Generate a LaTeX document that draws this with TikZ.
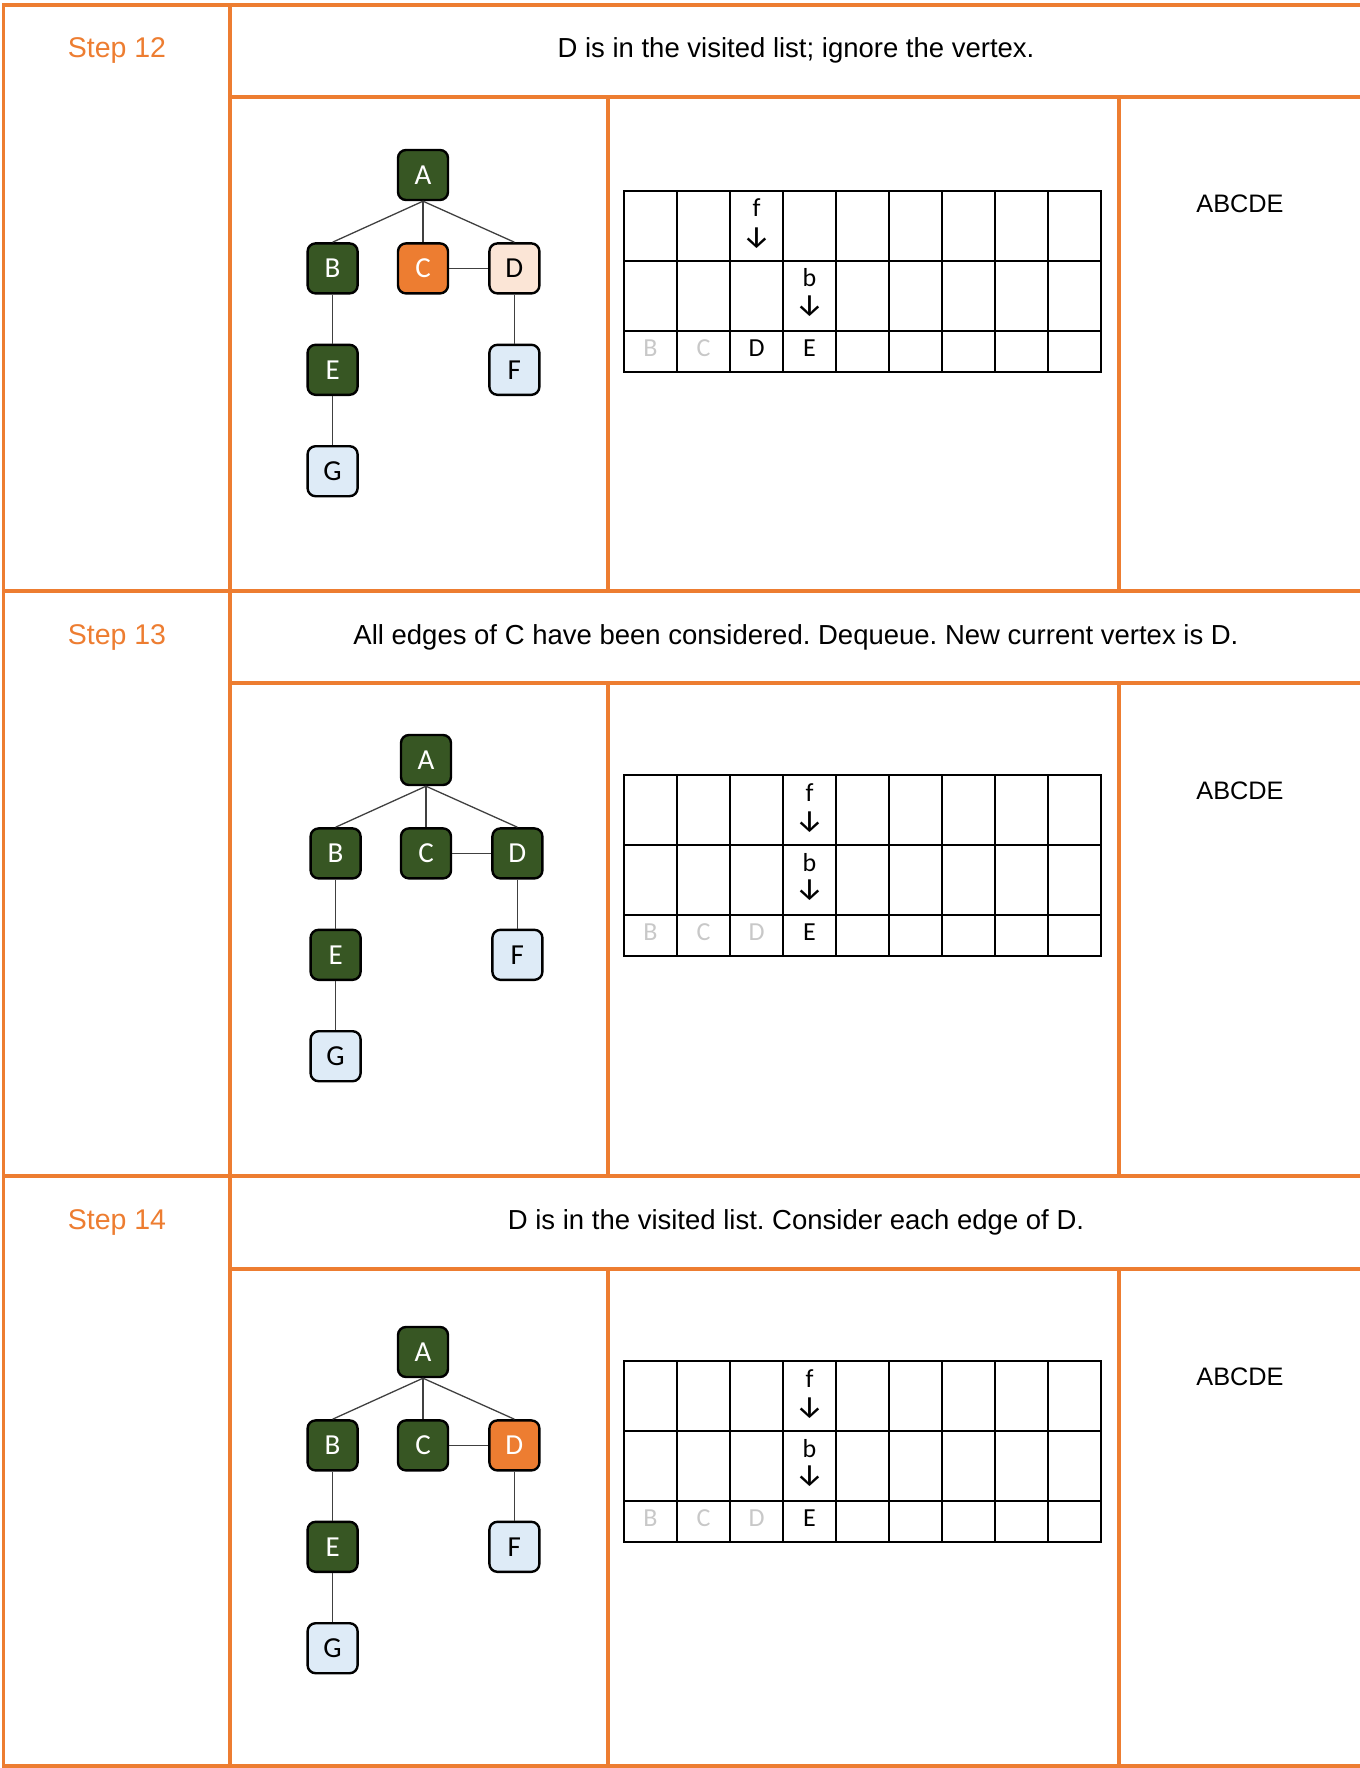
\documentclass[tikz,border=0pt]{standalone}
\usepackage{fontspec}
\setmainfont{Liberation Sans}
\newfontfamily\calfont{Carlito}
\newfontfamily\arrowfont{Fira Sans}
\usepackage{tikz}
\usetikzlibrary{positioning}
\definecolor{StepOrange}{HTML}{ED7D31}
\definecolor{VisitGreen}{HTML}{375623}
\definecolor{FreshBlue}{HTML}{DEEBF7}
\definecolor{QueuePeach}{HTML}{FBE5D6}
\definecolor{DoneGray}{HTML}{C8C8C8}
\frenchspacing

\begin{document}
\begin{tikzpicture}[x=1pt, y=-1pt,
  vbox/.style={draw=black, line width=2.4pt, rounded corners=8pt, minimum size=50pt,
    inner sep=0pt, font=\calfont\fontsize{29}{29}\selectfont},
  done/.style={vbox, fill=VisitGreen, text=white},
  current/.style={vbox, fill=StepOrange, text=white},
  queued/.style={vbox, fill=QueuePeach},
  fresh/.style={vbox, fill=FreshBlue},
  gedge/.style={black!75, line width=1.3pt},
  frame/.style={StepOrange, line width=3.4pt, line cap=rect},
  qline/.style={black, line width=2pt},
  qtext/.style={inner sep=0pt, anchor=base, font=\calfont\fontsize{26}{26}\selectfont},
  qarrow/.style={inner sep=0pt, font=\arrowfont\fontsize{31}{31}\selectfont},
  steplabel/.style={StepOrange, anchor=base, font=\fontsize{28.5}{34}\selectfont},
  heading/.style={anchor=base, font=\fontsize{27.5}{33}\selectfont},
  visited/.style={anchor=base, font=\fontsize{25.3}{30}\selectfont}]
\useasboundingbox (0,0) rectangle (1359,1768);

% Orange frame of the three steps
\draw[frame] (3.7,5) -- (1359,5);
\draw[frame] (3.7,591) -- (1359,591);
\draw[frame] (3.7,1176) -- (1359,1176);
\draw[frame] (3.7,1766) -- (1359,1766);
\draw[frame] (3.7,5) -- (3.7,1766);
\draw[frame] (230,5) -- (230,1766);
\draw[frame] (230,97) -- (1359,97);
\draw[frame] (230,683) -- (1359,683);
\draw[frame] (230,1269) -- (1359,1269);
\foreach \ytop/\ybot in {97/591, 683/1176, 1269/1766} {
  \draw[frame] (608,\ytop) -- (608,\ybot);
  \draw[frame] (1119,\ytop) -- (1119,\ybot);
}

% ---------------- Step 12 ----------------
\node[steplabel] (s12) at (117,57.5) {Step 12};
\node[heading] (h12) at (796,57.5) {D is in the visited list; ignore the vertex.};

% Graph
\node[done] (A12) at (423,175) {A};
\node[current, below=41pt of A12] (C12) {C};
\node[done, left=38pt of C12] (B12) {B};
\node[queued, right=39pt of C12] (D12) {D};
\node[done, below=49pt of B12] (E12) {E};
\node[fresh, below=49pt of D12] (F12) {F};
\node[fresh, below=49pt of E12] (G12) {G};
\draw[gedge] (A12.south) -- (B12.north);
\draw[gedge] (A12.south) -- (C12.north);
\draw[gedge] (A12.south) -- (D12.north);
\draw[gedge] (C12.east) -- (D12.west);
\draw[gedge] (B12.south) -- (E12.north);
\draw[gedge] (E12.south) -- (G12.north);
\draw[gedge] (D12.south) -- (F12.north);

% Queue
\draw[qline] (624,191) rectangle (1101,372);
\draw[qline] (624,261) -- (1101,261);
\draw[qline] (624,331) -- (1101,331);
\foreach \c in {1,...,8} \draw[qline] ({624+53*\c},191) -- ({624+53*\c},372);
\node[qtext] (f12) at (756.5,217) {f};
\node[qarrow] (fa12) at (756.5,238) {↓};
\node[qtext] (b12) at (809.5,287) {b};
\node[qarrow] (ba12) at (809.5,306) {↓};
\node[qtext, DoneGray] (q12a) at (650.5,356) {B};
\node[qtext, DoneGray] (q12b) at (703.5,356) {C};
\node[qtext] (q12c) at (756.5,356) {D};
\node[qtext] (q12d) at (809.5,356) {E};

% Visited list
\node[visited] (v12) at (1240,213) {ABCDE};

% ---------------- Step 13 ----------------
\node[steplabel] (s13) at (117,644) {Step 13};
\node[heading] (h13) at (796,644) {All edges of C have been considered. Dequeue. New current vertex is D.};

% Graph
\node[done] (A13) at (426,760) {A};
\node[done, below=41pt of A13] (C13) {C};
\node[done, left=38pt of C13] (B13) {B};
\node[done, right=39pt of C13] (D13) {D};
\node[done, below=49pt of B13] (E13) {E};
\node[fresh, below=49pt of D13] (F13) {F};
\node[fresh, below=49pt of E13] (G13) {G};
\draw[gedge] (A13.south) -- (B13.north);
\draw[gedge] (A13.south) -- (C13.north);
\draw[gedge] (A13.south) -- (D13.north);
\draw[gedge] (C13.east) -- (D13.west);
\draw[gedge] (B13.south) -- (E13.north);
\draw[gedge] (E13.south) -- (G13.north);
\draw[gedge] (D13.south) -- (F13.north);

% Queue
\draw[qline] (624,775) rectangle (1101,956);
\draw[qline] (624,845) -- (1101,845);
\draw[qline] (624,915) -- (1101,915);
\foreach \c in {1,...,8} \draw[qline] ({624+53*\c},775) -- ({624+53*\c},956);
\node[qtext] (f13) at (809.5,801) {f};
\node[qarrow] (fa13) at (809.5,822) {↓};
\node[qtext] (b13) at (809.5,871) {b};
\node[qarrow] (ba13) at (809.5,890) {↓};
\node[qtext, DoneGray] (q13a) at (650.5,940) {B};
\node[qtext, DoneGray] (q13b) at (703.5,940) {C};
\node[qtext, DoneGray] (q13c) at (756.5,940) {D};
\node[qtext] (q13d) at (809.5,940) {E};

% Visited list
\node[visited] (v13) at (1240,799.5) {ABCDE};

% ---------------- Step 14 ----------------
\node[steplabel] (s14) at (117,1229) {Step 14};
\node[heading] (h14) at (796,1229) {D is in the visited list. Consider each edge of D.};

% Graph
\node[done] (A14) at (423,1352) {A};
\node[done, below=41pt of A14] (C14) {C};
\node[done, left=38pt of C14] (B14) {B};
\node[current, right=39pt of C14] (D14) {D};
\node[done, below=49pt of B14] (E14) {E};
\node[fresh, below=49pt of D14] (F14) {F};
\node[fresh, below=49pt of E14] (G14) {G};
\draw[gedge] (A14.south) -- (B14.north);
\draw[gedge] (A14.south) -- (C14.north);
\draw[gedge] (A14.south) -- (D14.north);
\draw[gedge] (C14.east) -- (D14.west);
\draw[gedge] (B14.south) -- (E14.north);
\draw[gedge] (E14.south) -- (G14.north);
\draw[gedge] (D14.south) -- (F14.north);

% Queue
\draw[qline] (624,1361) rectangle (1101,1542);
\draw[qline] (624,1431) -- (1101,1431);
\draw[qline] (624,1501) -- (1101,1501);
\foreach \c in {1,...,8} \draw[qline] ({624+53*\c},1361) -- ({624+53*\c},1542);
\node[qtext] (f14) at (809.5,1387) {f};
\node[qarrow] (fa14) at (809.5,1408) {↓};
\node[qtext] (b14) at (809.5,1457) {b};
\node[qarrow] (ba14) at (809.5,1476) {↓};
\node[qtext, DoneGray] (q14a) at (650.5,1526) {B};
\node[qtext, DoneGray] (q14b) at (703.5,1526) {C};
\node[qtext, DoneGray] (q14c) at (756.5,1526) {D};
\node[qtext] (q14d) at (809.5,1526) {E};

% Visited list
\node[visited] (v14) at (1240,1385) {ABCDE};
\end{tikzpicture}
\end{document}
